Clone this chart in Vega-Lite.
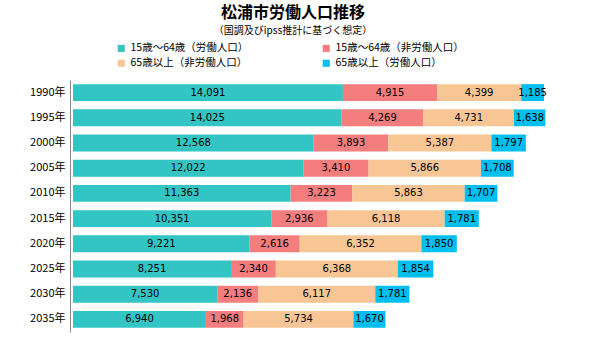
{
  "$schema": "https://vega.github.io/schema/vega-lite/v6.json",
  "width": 498,
  "height": 252,
  "autosize": {"type": "none"},
  "padding": {"left": 73, "top": 80, "right": 18, "bottom": 12},
  "background": "white",
  "config": {"view": {"stroke": null}},
  "title": {
    "text": "松浦市労働人口推移",
    "subtitle": "（国調及びipss推計に基づく想定）",
    "font": "Noto Sans CJK JP",
    "fontSize": 16,
    "fontWeight": "bold",
    "color": "black",
    "subtitleFont": "Noto Sans CJK JP",
    "subtitleFontSize": 10,
    "subtitleColor": "black",
    "subtitlePadding": 5,
    "anchor": "middle",
    "dx": -29,
    "offset": 7
  },
  "data": {
    "values": [
      {"year": "1990年", "group": "15歳～64歳（労働人口）", "order": 1, "value": 14091},
      {"year": "1990年", "group": "15歳～64歳（非労働人口）", "order": 2, "value": 4915},
      {"year": "1990年", "group": "65歳以上（非労働人口）", "order": 3, "value": 4399},
      {"year": "1990年", "group": "65歳以上（労働人口）", "order": 4, "value": 1185},
      {"year": "1995年", "group": "15歳～64歳（労働人口）", "order": 1, "value": 14025},
      {"year": "1995年", "group": "15歳～64歳（非労働人口）", "order": 2, "value": 4269},
      {"year": "1995年", "group": "65歳以上（非労働人口）", "order": 3, "value": 4731},
      {"year": "1995年", "group": "65歳以上（労働人口）", "order": 4, "value": 1638},
      {"year": "2000年", "group": "15歳～64歳（労働人口）", "order": 1, "value": 12568},
      {"year": "2000年", "group": "15歳～64歳（非労働人口）", "order": 2, "value": 3893},
      {"year": "2000年", "group": "65歳以上（非労働人口）", "order": 3, "value": 5387},
      {"year": "2000年", "group": "65歳以上（労働人口）", "order": 4, "value": 1797},
      {"year": "2005年", "group": "15歳～64歳（労働人口）", "order": 1, "value": 12022},
      {"year": "2005年", "group": "15歳～64歳（非労働人口）", "order": 2, "value": 3410},
      {"year": "2005年", "group": "65歳以上（非労働人口）", "order": 3, "value": 5866},
      {"year": "2005年", "group": "65歳以上（労働人口）", "order": 4, "value": 1708},
      {"year": "2010年", "group": "15歳～64歳（労働人口）", "order": 1, "value": 11363},
      {"year": "2010年", "group": "15歳～64歳（非労働人口）", "order": 2, "value": 3223},
      {"year": "2010年", "group": "65歳以上（非労働人口）", "order": 3, "value": 5863},
      {"year": "2010年", "group": "65歳以上（労働人口）", "order": 4, "value": 1707},
      {"year": "2015年", "group": "15歳～64歳（労働人口）", "order": 1, "value": 10351},
      {"year": "2015年", "group": "15歳～64歳（非労働人口）", "order": 2, "value": 2936},
      {"year": "2015年", "group": "65歳以上（非労働人口）", "order": 3, "value": 6118},
      {"year": "2015年", "group": "65歳以上（労働人口）", "order": 4, "value": 1781},
      {"year": "2020年", "group": "15歳～64歳（労働人口）", "order": 1, "value": 9221},
      {"year": "2020年", "group": "15歳～64歳（非労働人口）", "order": 2, "value": 2616},
      {"year": "2020年", "group": "65歳以上（非労働人口）", "order": 3, "value": 6352},
      {"year": "2020年", "group": "65歳以上（労働人口）", "order": 4, "value": 1850},
      {"year": "2025年", "group": "15歳～64歳（労働人口）", "order": 1, "value": 8251},
      {"year": "2025年", "group": "15歳～64歳（非労働人口）", "order": 2, "value": 2340},
      {"year": "2025年", "group": "65歳以上（非労働人口）", "order": 3, "value": 6368},
      {"year": "2025年", "group": "65歳以上（労働人口）", "order": 4, "value": 1854},
      {"year": "2030年", "group": "15歳～64歳（労働人口）", "order": 1, "value": 7530},
      {"year": "2030年", "group": "15歳～64歳（非労働人口）", "order": 2, "value": 2136},
      {"year": "2030年", "group": "65歳以上（非労働人口）", "order": 3, "value": 6117},
      {"year": "2030年", "group": "65歳以上（労働人口）", "order": 4, "value": 1781},
      {"year": "2035年", "group": "15歳～64歳（労働人口）", "order": 1, "value": 6940},
      {"year": "2035年", "group": "15歳～64歳（非労働人口）", "order": 2, "value": 1968},
      {"year": "2035年", "group": "65歳以上（非労働人口）", "order": 3, "value": 5734},
      {"year": "2035年", "group": "65歳以上（労働人口）", "order": 4, "value": 1670}
    ]
  },
  "encoding": {
    "y": {
      "field": "year",
      "type": "nominal",
      "sort": null,
      "title": null,
      "scale": {"paddingInner": 0.33, "paddingOuter": 0.165},
      "axis": {
        "ticks": false,
        "domain": true,
        "domainColor": "#888888",
        "offset": 3,
        "labelPadding": 5,
        "labelFont": "Noto Sans CJK JP",
        "labelFontSize": 11,
        "labelColor": "black"
      }
    }
  },
  "layer": [
    {
      "mark": {"type": "bar"},
      "encoding": {
        "x": {
          "field": "value",
          "type": "quantitative",
          "stack": "zero",
          "scale": {"domain": [0, 25000]},
          "axis": null
        },
        "color": {
          "field": "group",
          "type": "nominal",
          "scale": {
            "domain": ["15歳～64歳（労働人口）", "15歳～64歳（非労働人口）", "65歳以上（非労働人口）", "65歳以上（労働人口）"],
            "range": ["#33C4C4", "#F47E7E", "#F8C594", "#00BFEF"]
          },
          "legend": {
            "orient": "none",
            "legendX": 43,
            "legendY": -37,
            "columns": 2,
            "direction": "horizontal",
            "title": null,
            "padding": 0,
            "symbolType": "square",
            "symbolSize": 50,
            "symbolStrokeWidth": 0,
            "labelFont": "Noto Sans CJK JP",
            "labelFontSize": 10.5,
            "labelColor": "black",
            "labelLimit": 250,
            "columnPadding": 72,
            "rowPadding": 4
          }
        },
        "order": {"field": "order", "type": "quantitative"}
      }
    },
    {
      "transform": [
        {"stack": "value", "groupby": ["year"], "sort": [{"field": "order"}], "as": ["v0", "v1"]},
        {"calculate": "(datum.v0 + datum.v1) / 2", "as": "mid"}
      ],
      "mark": {"type": "text", "font": "DejaVu Sans", "fontSize": 10, "color": "black"},
      "encoding": {
        "x": {"field": "mid", "type": "quantitative"},
        "text": {"field": "value", "type": "quantitative", "format": ","}
      }
    }
  ]
}
